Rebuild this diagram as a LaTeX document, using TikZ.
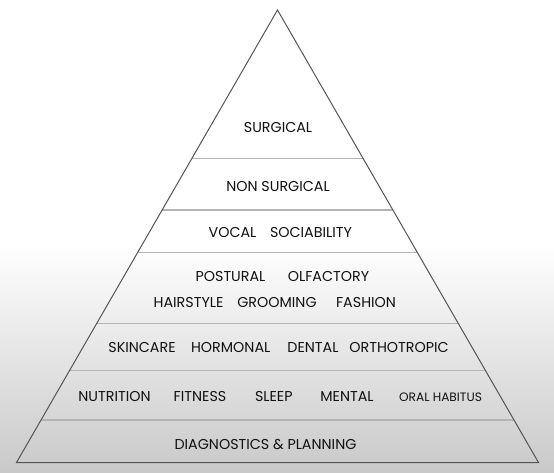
\documentclass[tikz,border=0pt]{standalone}
\usepackage{fontspec}
\setmainfont{Poppins}
\usetikzlibrary{calc}
\definecolor{edge}{HTML}{555555}
\definecolor{tier}{HTML}{B4B4B4}
\definecolor{ink}{HTML}{111111}
\definecolor{bgbot}{HTML}{C9C9C9}
\begin{document}
\begin{tikzpicture}[x=1bp,y=-1bp,
  lbl/.style={anchor=base,inner sep=0pt,text=ink,font=\fontsize{14.3bp}{17bp}\selectfont},
  lblsmall/.style={lbl,font=\fontsize{12.2bp}{14bp}\selectfont},
  tierline/.style={draw=tier,line width=1.1bp},
  outline/.style={draw=edge,line width=1bp,line join=miter}]
\useasboundingbox (0,0) rectangle (554,473);
\fill[white] (0,0) rectangle (554,245);
\shade[top color=white,bottom color=bgbot] (0,244) rectangle (554,473);
\coordinate (apex) at (277.5,10);
\coordinate (bl) at (16.5,462.5);
\coordinate (br) at (538.5,462.5);
\foreach \t/\n in {0.3282/a,0.4420/b,0.5355/c,0.6924/d,0.7971/e,0.9061/f}{
  \coordinate (l\n) at ($(apex)!\t!(bl)$);
  \coordinate (r\n) at ($(apex)!\t!(br)$);
  \draw[tierline] (l\n) -- (r\n);
}
\draw[outline] (apex) -- (bl) -- (br) -- cycle;
\node[lbl] (surg) at (278,132.9) {SURGICAL};
\node[lbl] (nonsurg) at (278,191.9) {NON SURGICAL};
\node[lbl] (vocal) at (232.5,237.5) {VOCAL};
\node[lbl] (soc) at (311,237.5) {SOCIABILITY};
\node[lbl] (post) at (230.5,281.9) {POSTURAL};
\node[lbl] (olf) at (328.5,281.9) {OLFACTORY};
\node[lbl] (hair) at (188.5,307.5) {HAIRSTYLE};
\node[lbl] (groom) at (277,307.5) {GROOMING};
\node[lbl] (fash) at (366,307.5) {FASHION};
\node[lbl] (skin) at (142,352.5) {SKINCARE};
\node[lbl] (horm) at (230.7,352.5) {HORMONAL};
\node[lbl] (dent) at (313,352.5) {DENTAL};
\node[lbl] (ortho) at (399,352.5) {ORTHOTROPIC};
\node[lbl] (nutr) at (114.5,401.9) {NUTRITION};
\node[lbl] (fit) at (200,401.9) {FITNESS};
\node[lbl] (sleep) at (273.8,401.9) {SLEEP};
\node[lbl] (ment) at (347,401.9) {MENTAL};
\node[lblsmall] (oral) at (440.5,401.3) {ORAL HABITUS};
\node[lbl] (diag) at (265.5,449.5) {DIAGNOSTICS \& PLANNING};
\end{tikzpicture}
\end{document}
